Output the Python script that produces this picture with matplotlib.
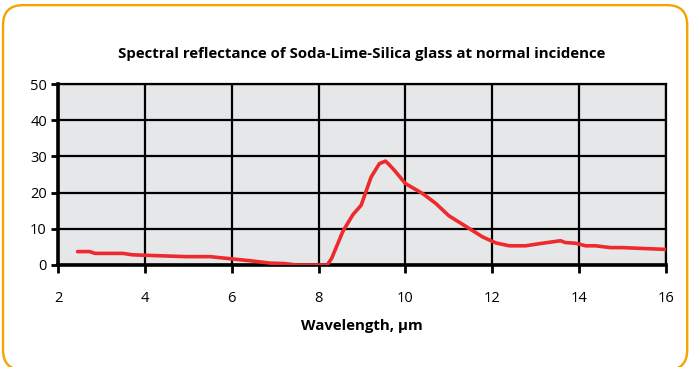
import matplotlib.pyplot as plt
from matplotlib.patches import FancyBboxPatch

# Reflectance (%) vs wavelength (um), soda-lime-silica glass
wavelength = [2.45, 2.73, 2.85, 3.5, 3.72, 4.95, 5.5, 6.4, 6.9, 7.2, 7.5, 8.2, 8.3,
              8.56, 8.79, 8.98, 9.21, 9.40, 9.54, 9.62, 9.75, 10.0, 10.4, 10.7, 11.0,
              11.4, 11.77, 12.08, 12.39, 12.77, 13.15, 13.57, 13.68, 13.92, 14.15,
              14.38, 14.72, 14.99, 16.0]
reflectance = [3.7, 3.7, 3.2, 3.2, 2.8, 2.3, 2.3, 1.2, 0.5, 0.4, 0.0, 0.0, 1.8,
               9.3, 13.9, 16.5, 24.3, 28.0, 28.7, 27.8, 26.1, 22.5, 19.7, 17.0, 13.6,
               10.6, 7.8, 6.1, 5.3, 5.3, 6.0, 6.7, 6.2, 6.0, 5.3,
               5.3, 4.8, 4.8, 4.3]
x_ticks = [2, 4, 6, 8, 10, 12, 14, 16]
y_ticks = [0, 10, 20, 30, 40, 50]

plt.rcParams['font.family'] = ['Open Sans', 'DejaVu Sans']

fig = plt.figure(figsize=(6.89, 3.67), dpi=100)

# rounded orange frame around the whole figure (bottom edge runs off the canvas)
frame = FancyBboxPatch((0.0044, -0.008), 0.993, 0.994, transform=fig.transFigure,
                       boxstyle="round,pad=0,rounding_size=0.029",
                       facecolor='white', edgecolor='#f5a300', linewidth=1.7,
                       mutation_aspect=689 / 367, zorder=-10)
fig.patches.append(frame)

ax = fig.add_axes([0.0842, 0.278, 0.8824, 0.493])
ax.set_facecolor('#e6e7e9')
ax.plot(wavelength, reflectance, color='#ee2a2d', linewidth=2.6,
        solid_joinstyle='round', solid_capstyle='round', zorder=3)

ax.set_xlim(2, 16)
ax.set_ylim(0, 50)
ax.set_xticks(x_ticks)
ax.set_yticks(y_ticks)
ax.grid(True, color='black', linewidth=1.6)
ax.set_axisbelow(True)

for side in ['top', 'right']:
    ax.spines[side].set_linewidth(1.6)
for side in ['left', 'bottom']:
    ax.spines[side].set_linewidth(2.6)

ax.tick_params(axis='x', direction='out', length=6, width=2, pad=13, labelsize=10.5)
ax.tick_params(axis='y', direction='out', length=5, width=2, pad=3, labelsize=10.5)

ax.set_title('Spectral reflectance of Soda-Lime-Silica glass at normal incidence',
             fontsize=10.8, fontweight='bold', pad=19)
ax.set_xlabel('Wavelength, µm', fontsize=10.8, fontweight='bold', labelpad=9)

fig.savefig('out.png', dpi=100)
